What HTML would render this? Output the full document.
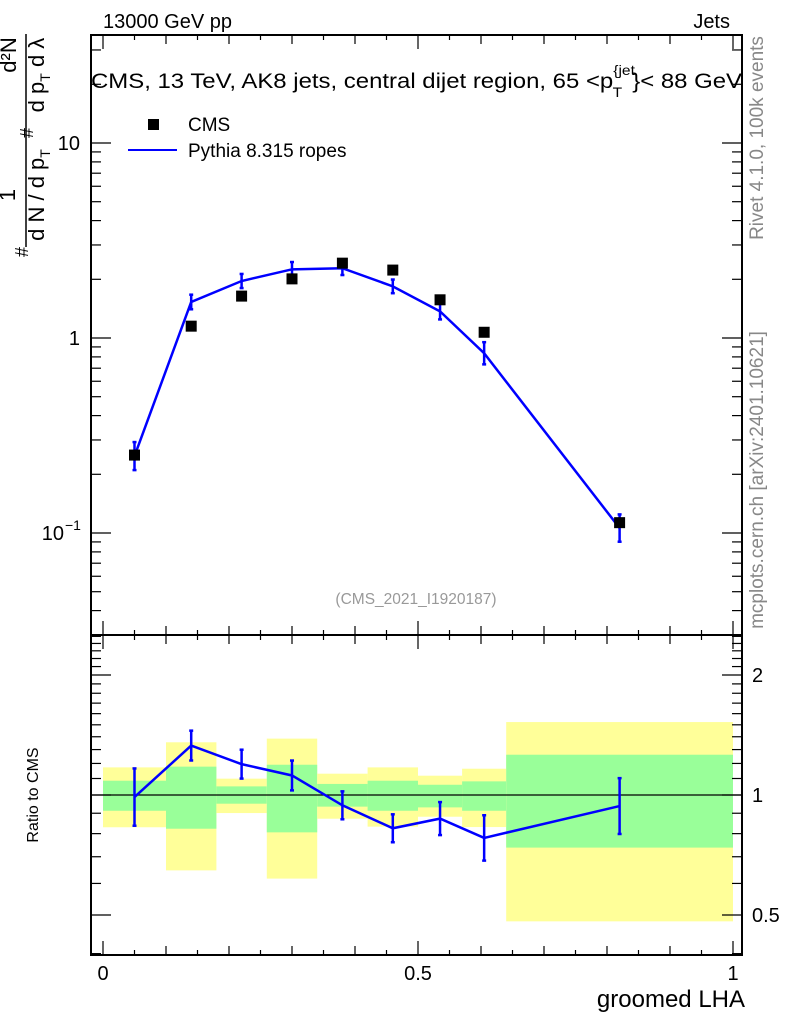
<!DOCTYPE html>
<html><head><meta charset="utf-8"><style>
html,body{margin:0;padding:0;background:#fff;}
svg{display:block;font-family:"Liberation Sans",Arial,sans-serif;}
</style></head><body>
<svg id="chart" width="786" height="1024" viewBox="0 0 786 1024" xmlns="http://www.w3.org/2000/svg">
<g id="bands"></g>
<g id="axes"></g>
<g id="marks"></g>
<text x="103" y="28" font-size="20">13000 GeV pp</text>
<text x="730" y="28" font-size="20" text-anchor="end">Jets</text>
<text x="91" y="88" font-size="21.5" textLength="651" lengthAdjust="spacingAndGlyphs">CMS, 13 TeV, AK8 jets, central dijet region, 65 &lt;p<tspan dy="-13" font-size="14">{jet</tspan><tspan dx="-20" dy="22" font-size="14">T</tspan><tspan dx="9" dy="-9">}&lt; 88 GeV</tspan></text>
<rect x="148" y="119" width="11" height="11" fill="#000"/>
<text x="188" y="131" font-size="19">CMS</text>
<line x1="128" y1="150" x2="177" y2="150" stroke="#0000ff" stroke-width="2"/>
<text x="188" y="157" font-size="19">Pythia 8.315 ropes</text>
<text x="416" y="604" font-size="15.5" fill="#999" text-anchor="middle">(CMS_2021_I1920187)</text>
<text transform="translate(763,138) rotate(-90)" font-size="19" fill="#888" text-anchor="middle">Rivet 4.1.0,  100k events</text>
<text transform="translate(763,480) rotate(-90)" font-size="19" fill="#888" text-anchor="middle">mcplots.cern.ch [arXiv:2401.10621]</text>
<g font-size="22">
<text transform="translate(16,55) rotate(-90)" text-anchor="middle">d²N</text>
<text transform="translate(44,75) rotate(-90)" text-anchor="middle">d p<tspan font-size="14" dy="6">T</tspan><tspan dy="-6"> d λ</tspan></text>
<text transform="translate(33,133) rotate(-90)" text-anchor="middle" font-size="18">#</text>
<text transform="translate(15,195) rotate(-90)" text-anchor="middle">1</text>
<text transform="translate(44,195) rotate(-90)" text-anchor="middle">d N / d p<tspan font-size="14" dy="6">T</tspan></text>
<text transform="translate(28,252) rotate(-90)" text-anchor="middle" font-size="18">#</text>
<line x1="26" y1="34" x2="26" y2="247" stroke="#000" stroke-width="1.5"/>
</g>
<text transform="translate(38,795) rotate(-90)" font-size="16" text-anchor="middle">Ratio to CMS</text>
<text x="745" y="1007" font-size="24" text-anchor="end">groomed LHA</text>
</svg>
<script>
const binEdges=[0,0.1,0.18,0.26,0.34,0.42,0.5,0.57,0.64,1.0];
const xCenters=[0.05,0.14,0.22,0.3,0.38,0.46,0.535,0.605,0.82];
const cmsValues=[0.251,1.15,1.64,2.01,2.42,2.23,1.57,1.07,0.113];
const pythiaValues=[0.248,1.53,1.96,2.25,2.28,1.84,1.37,0.835,0.106];
const pythiaRelErr=[0.18,0.09,0.087,0.09,0.084,0.084,0.1,0.14,0.175];
const greenHi=[1.086,1.178,1.051,1.191,1.066,1.086,1.061,1.082,1.262];
const greenLo=[0.913,0.823,0.951,0.806,0.935,0.913,0.931,0.913,0.738];
const yellowHi=[1.173,1.356,1.099,1.385,1.131,1.173,1.118,1.164,1.524];
const yellowLo=[0.830,0.647,0.901,0.617,0.872,0.833,0.882,0.831,0.482];
const xTickLabels=["0","0.5","1"];
const xTickValues=[0,0.5,1];
const ratioTickValues=[0.5,1,2];
const ratioTickLabels=["0.5","1","2"];

const NS="http://www.w3.org/2000/svg";
const L=91,R=742,T=35,MID=635,B=955;
const X=v=>103+v*630;
const Y=v=>338-Math.log10(v)*195;
const RY=v=>795-Math.log10(v)*398.6;
function mk(tag,parent,attrs){const e=document.createElementNS(NS,tag);for(const k in attrs)e.setAttribute(k,attrs[k]);parent.appendChild(e);return e;}
const bands=document.getElementById('bands'),axes=document.getElementById('axes'),marks=document.getElementById('marks');

for(let i=0;i<xCenters.length;i++){
  const x0=X(binEdges[i]),x1=X(binEdges[i+1]);
  const y=mk('rect',bands,{x:x0,y:RY(yellowHi[i]),width:x1-x0,height:RY(yellowLo[i])-RY(yellowHi[i]),fill:'#ffff99'});
  
  
  const g=mk('rect',bands,{x:x0,y:RY(greenHi[i]),width:x1-x0,height:RY(greenLo[i])-RY(greenHi[i]),fill:'#99ff99'});
  
  
}
const f1=mk('rect',axes,{x:L,y:T,width:R-L,height:MID-T,fill:'none',stroke:'#000','stroke-width':2});


const f2=mk('rect',axes,{x:L,y:MID,width:R-L,height:B-MID,fill:'none',stroke:'#000','stroke-width':2});


const one=mk('line',axes,{x1:L,x2:R,y1:RY(1),y2:RY(1),stroke:'#000','stroke-width':1.2});


for(let k=0;k<=20;k++){
  const v=k*0.05,x=X(v);
  const len=(k%10===0)?14:(k%2===0?9:5);
  [[T,1],[MID,-1],[MID,1],[B,-1]].forEach(([yy,d])=>mk('line',axes,{x1:x,x2:x,y1:yy,y2:yy+d*len,stroke:'#000','stroke-width':1.2}));
}
xTickValues.forEach((v,i)=>{const t=mk('text',axes,{x:X(v),y:980,'font-size':20,'text-anchor':'middle'});t.textContent=xTickLabels[i];

});
for(let d=-2;d<=1;d++){for(let m=1;m<=9;m++){const v=m*Math.pow(10,d);const y=Y(v);if(y<T||y>MID)continue;const len=m===1?20:10;
mk('line',axes,{x1:L,x2:L+len,y1:y,y2:y,stroke:'#000','stroke-width':1.2});mk('line',axes,{x1:R,x2:R-len,y1:y,y2:y,stroke:'#000','stroke-width':1.2});}}
[[10,'10'],[1,'1']].forEach(([v,s])=>{const t=mk('text',axes,{x:80,y:Y(v)+7,'font-size':20,'text-anchor':'end'});t.textContent=s;

});
const tm=mk('text',axes,{x:64,y:Y(0.1)+7,'font-size':20,'text-anchor':'end'});tm.textContent='10';


const ts=mk('text',axes,{x:65,y:Y(0.1)-3,'font-size':14});ts.textContent='−1';
for(let v=0.4;v<=2.51;v+=0.1){const y=RY(v);if(y<MID||y>B)continue;const r=Math.round(v*10);const len=(r===5||r===10||r===20)?20:10;
mk('line',axes,{x1:L,x2:L+len,y1:y,y2:y,stroke:'#000','stroke-width':1.2});mk('line',axes,{x1:R,x2:R-len,y1:y,y2:y,stroke:'#000','stroke-width':1.2});}
ratioTickValues.forEach((v,i)=>{const t=mk('text',axes,{x:752,y:RY(v)+7,'font-size':20});t.textContent=ratioTickLabels[i];

});

const mainLine=mk('polyline',marks,{points:xCenters.map((x,i)=>X(x)+','+Y(pythiaValues[i])).join(' '),fill:'none',stroke:'#0000ff','stroke-width':2.5});


const ratioVals=pythiaValues.map((v,i)=>v/cmsValues[i]);
const ratioLine=mk('polyline',marks,{points:xCenters.map((x,i)=>X(x)+','+RY(ratioVals[i])).join(' '),fill:'none',stroke:'#0000ff','stroke-width':2.5});


xCenters.forEach((xv,i)=>{
  const x=X(xv);
  const e=pythiaRelErr[i];
  const draw=(yHi,yLo,name)=>{const g=mk('g',marks,{stroke:'#0000ff','stroke-width':2.5});
    
    
    mk('line',g,{x1:x,x2:x,y1:yHi,y2:yLo});mk('line',g,{x1:x-2,x2:x+2,y1:yHi,y2:yHi});mk('line',g,{x1:x-2,x2:x+2,y1:yLo,y2:yLo});};
  draw(Y(pythiaValues[i]*(1+e)),Y(pythiaValues[i]/(1+e)),'pythia-error-bar');
  draw(RY(ratioVals[i]*(1+e)),RY(ratioVals[i]/(1+e)),'ratio-error-bar');
  const s=mk('rect',marks,{x:x-5.5,y:Y(cmsValues[i])-5.5,width:11,height:11,fill:'#000'});
  
  
});
</script>
</body></html>
